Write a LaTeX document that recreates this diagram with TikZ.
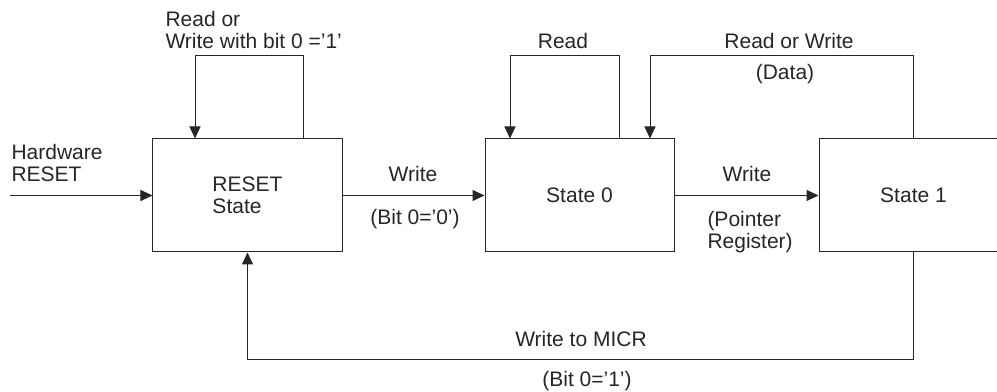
\documentclass[tikz,border=0pt]{standalone}
\usepackage{fontspec}
\setmainfont{Liberation Sans}
\usetikzlibrary{arrows.meta,calc}

\begin{document}
\begin{tikzpicture}[
    x=0.5bp, y=-0.5bp, color=black!85, line width=0.5bp,
    font=\fontsize{10.5bp}{11bp}\selectfont,
    state/.style={draw, minimum width=94.5bp, minimum height=56.5bp, inner sep=0pt, align=left},
    arr/.style={-{Triangle[length=6bp,width=5.5bp]}},
]
\useasboundingbox (0,0) rectangle (997,392);
\node[state] (reset) at (247.5,195.5) {RESET\\State};
\node[state] (s0)    at (579.5,195.5) {State 0};
\node[state] (s1)    at (913.5,195.5) {State 1};
\coordinate (hw) at (10,195.5);

\draw[arr] (hw) -- (reset);
\draw[arr] (reset) -- (s0);
\draw[arr] (s0) -- (s1);
\draw[arr] ($(reset.north)+(55.5,0)$) -- ++(0,-83) -| ($(reset.north)+(-52.5,0)$);
\draw[arr] ($(s0.north)+(39.5,0)$) -- ++(0,-83) -| ($(s0.north)+(-69.5,0)$);
\draw[arr] (s1.north) -- ++(0,-83) -| ($(s0.north)+(70.5,0)$);
\draw[arr] (s1.south) -- ++(0,107) -| (reset.south);

\node[anchor=west, align=left, inner sep=0pt] (hwl) at (11,163.5) {Hardware\\RESET};
\node[anchor=west, align=left, inner sep=0pt] (rwl0) at (165,30) {Read or\\Write with bit 0 ='1'};
\node[anchor=base, inner sep=0pt] (readl) at (563,49) {Read};
\node[anchor=base, inner sep=0pt] (rwl) at (789,49) {Read or Write};
\node[anchor=base, inner sep=0pt] (datal) at (785,80) {(Data)};
\node[anchor=base, inner sep=0pt] (w1l) at (413,182) {Write};
\node[anchor=base, inner sep=0pt] (b0l) at (415,225) {(Bit 0='0')};
\node[anchor=base, inner sep=0pt] (w2l) at (747,182) {Write};
\node[anchor=west, align=left, inner sep=0pt] (ptrl) at (707,232) {(Pointer\\Register)};
\node[anchor=base, inner sep=0pt] (micrl) at (581,347) {Write to MICR};
\node[anchor=base, inner sep=0pt] (b1l) at (587,387) {(Bit 0='1')};
\end{tikzpicture}
\end{document}
